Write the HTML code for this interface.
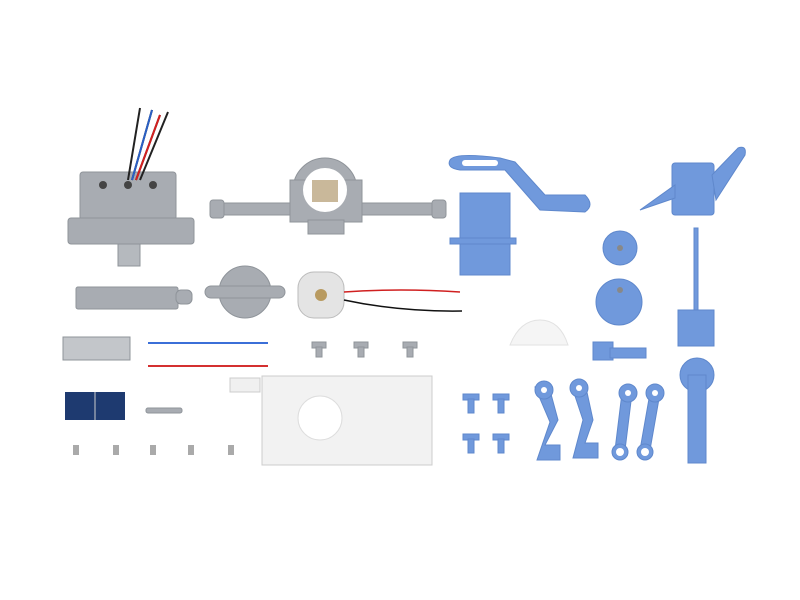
<!DOCTYPE html>
<html><head><style>html,body{margin:0;padding:0;background:#fff;width:800px;height:600px;overflow:hidden}</style></head><body>
<svg width="800" height="600" viewBox="0 0 800 600" xmlns="http://www.w3.org/2000/svg">
<rect width="800" height="600" fill="#fff"/>
<g fill="#a8acb2" stroke="#8f949a" stroke-width="1">
<!-- battery box -->
<rect x="80" y="172" width="96" height="48" rx="3"/>
<rect x="68" y="218" width="126" height="26" rx="3"/>
<rect x="118" y="244" width="22" height="22" fill="#b5b9be"/>
<!-- axle assembly -->
<rect x="215" y="203" width="225" height="12" rx="2"/>
<circle cx="325" cy="190" r="32"/>
<rect x="290" y="180" width="72" height="42"/>
<rect x="308" y="220" width="36" height="14"/>
<rect x="210" y="200" width="14" height="18" rx="3"/>
<rect x="432" y="200" width="14" height="18" rx="3"/>
<!-- plate -->
<rect x="76" y="287" width="102" height="22" rx="2"/>
<rect x="176" y="290" width="16" height="14" rx="5"/>
<!-- gear disc -->
<circle cx="245" cy="292" r="26"/>
<rect x="205" y="286" width="80" height="12" rx="6"/>
<!-- bracket -->
<rect x="63" y="337" width="67" height="23" fill="#c3c6ca"/>
<!-- screws -->
<rect x="312" y="342" width="14" height="6"/><rect x="316" y="347" width="6" height="10"/>
<rect x="354" y="342" width="14" height="6"/><rect x="358" y="347" width="6" height="10"/>
<rect x="403" y="342" width="14" height="6"/><rect x="407" y="347" width="6" height="10"/>
<!-- wrench -->
<rect x="146" y="408" width="36" height="5" rx="2"/>
</g>
<circle cx="325" cy="190" r="22" fill="#fff"/>
<rect x="312" y="180" width="26" height="22" fill="#c9b89a"/>
<!-- battery holes -->
<g fill="#444"><circle cx="103" cy="185" r="4"/><circle cx="128" cy="185" r="4"/><circle cx="153" cy="185" r="4"/></g>
<!-- battery wires -->
<path d="M128 180 L140 108 M132 180 L152 110 M136 180 L160 115 M140 180 L168 112" stroke="#222" stroke-width="2" fill="none"/>
<path d="M132 180 L152 110" stroke="#2a5fc4" stroke-width="2"/>
<path d="M136 180 L160 115" stroke="#d32020" stroke-width="2"/>
<!-- motor -->
<rect x="298" y="272" width="46" height="46" rx="16" fill="#e4e4e4" stroke="#bbb"/>
<circle cx="321" cy="295" r="6" fill="#b89a60"/>
<path d="M344 292 Q400 288 460 292" stroke="#d02020" stroke-width="1.5" fill="none"/>
<path d="M344 300 Q400 312 462 311" stroke="#111" stroke-width="1.5" fill="none"/>
<!-- wires -->
<path d="M148 343 L268 343" stroke="#3b6fd8" stroke-width="2"/>
<path d="M148 366 L268 366" stroke="#d43030" stroke-width="2"/>
<!-- solar -->
<rect x="65" y="392" width="60" height="28" fill="#1e3a70"/>
<line x1="95" y1="392" x2="95" y2="420" stroke="#ccc"/>
<!-- tiny screws -->
<g fill="#aaa"><rect x="73" y="445" width="6" height="10"/><rect x="113" y="445" width="6" height="10"/><rect x="150" y="445" width="6" height="10"/><rect x="188" y="445" width="6" height="10"/><rect x="228" y="445" width="6" height="10"/></g>
<!-- white tray -->
<rect x="262" y="376" width="170" height="89" fill="#f2f2f2" stroke="#ccc"/>
<circle cx="320" cy="418" r="22" fill="#fff" stroke="#ddd"/>
<rect x="230" y="378" width="30" height="14" fill="#f0f0f0" stroke="#ccc"/>
<!-- white part -->
<path d="M510 345 Q520 320 540 320 Q560 320 568 345 Z" fill="#f5f5f5" stroke="#e2e2e2"/>
<g fill="#7099dc" stroke="#5f88cc" stroke-width="1">
<!-- crank arm -->
<path d="M450 160 Q455 152 500 158 L515 162 L545 195 L585 195 Q595 205 585 212 L540 210 L505 170 L460 170 Q446 168 450 160 Z"/>
<!-- cylinder -->
<rect x="460" y="193" width="50" height="82"/>
<rect x="450" y="238" width="66" height="6"/>
<!-- top right -->
<rect x="672" y="163" width="42" height="52" rx="3"/>
<path d="M640 210 L675 185 L675 198 Z"/>
<path d="M712 175 L738 148 Q747 145 745 155 L716 200 Z"/>
<!-- discs -->
<circle cx="620" cy="248" r="17"/>
<circle cx="619" cy="302" r="23"/>
<!-- rod cylinder -->
<rect x="694" y="228" width="4" height="84"/>
<rect x="678" y="310" width="36" height="36"/>
<!-- small piece -->
<rect x="593" y="342" width="20" height="18"/>
<rect x="610" y="348" width="36" height="10"/>
<!-- blue screws -->
<rect x="463" y="394" width="16" height="6"/><rect x="468" y="399" width="6" height="14"/>
<rect x="493" y="394" width="16" height="6"/><rect x="498" y="399" width="6" height="14"/>
<rect x="463" y="434" width="16" height="6"/><rect x="468" y="439" width="6" height="14"/>
<rect x="493" y="434" width="16" height="6"/><rect x="498" y="439" width="6" height="14"/>
<!-- levers -->
<path d="M535 387 L548 383 L558 420 L545 445 L560 445 L560 460 L537 460 L550 422 Z"/>
<circle cx="544" cy="390" r="9"/>
<path d="M572 387 L585 383 L593 420 L585 443 L598 443 L598 458 L573 458 L583 420 Z"/>
<circle cx="579" cy="388" r="9"/>
<path d="M622 393 L632 393 L625 450 L615 450 Z"/>
<circle cx="628" cy="393" r="9"/><circle cx="620" cy="452" r="8"/>
<path d="M650 393 L660 393 L650 450 L640 450 Z"/>
<circle cx="655" cy="393" r="9"/><circle cx="645" cy="452" r="8"/>
<circle cx="697" cy="375" r="17"/>
<rect x="688" y="375" width="18" height="88"/>
</g>
<g fill="#fff"><circle cx="628" cy="393" r="3"/><circle cx="620" cy="452" r="4"/><circle cx="655" cy="393" r="3"/><circle cx="645" cy="452" r="4"/><circle cx="544" cy="390" r="3"/><circle cx="579" cy="388" r="3"/><rect x="462" y="160" width="36" height="6" rx="3"/></g>
<g fill="#888"><circle cx="620" cy="248" r="3"/><circle cx="620" cy="290" r="3"/></g>
</svg>
</body></html>
